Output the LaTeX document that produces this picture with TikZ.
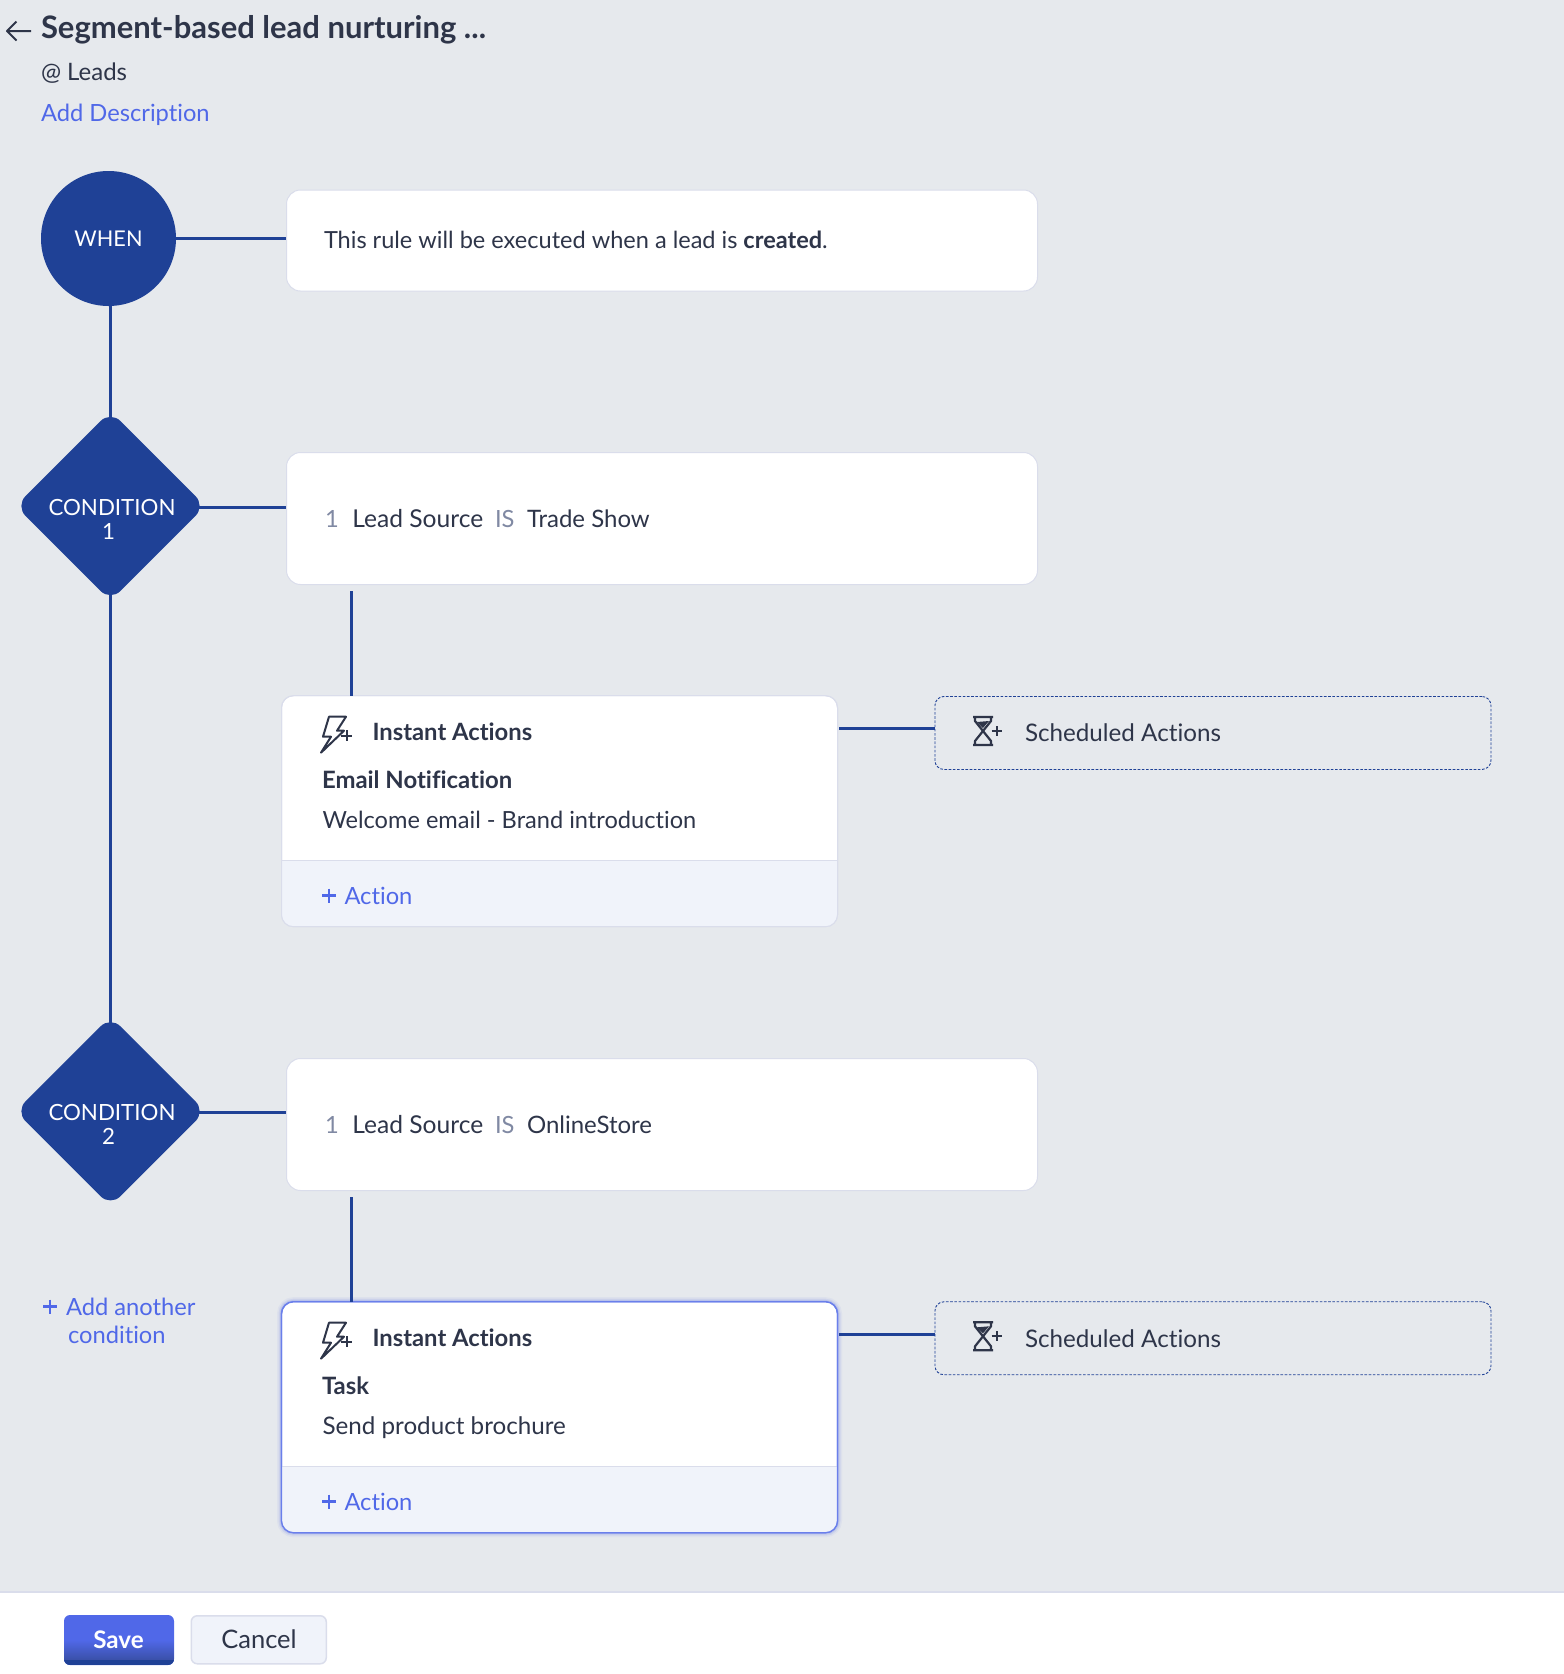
\documentclass[tikz,border=0pt]{standalone}
\usepackage{fontspec}
\usetikzlibrary{shapes.geometric,calc}
\setmainfont{Lato}[Ligatures=NoCommon]
\definecolor{bgc}{HTML}{E6E9ED}
\definecolor{navy}{HTML}{1F4196}
\definecolor{ink}{HTML}{2E3549}
\definecolor{linkc}{HTML}{5068E8}
\definecolor{edge}{HTML}{DADDEB}
\definecolor{foot}{HTML}{F0F3FA}
\definecolor{grayc}{HTML}{8089A3}
\definecolor{midb}{HTML}{3A50A8}
\newcommand{\fsz}[1]{\fontsize{#1}{#1}\selectfont}
\tikzset{
 x=1pt,y=-1pt,
 tx/.style={anchor=base west,inner sep=0pt,outer sep=0pt,text=ink,font=\fsz{23.7}},
 bd/.style={tx,font=\fsz{23.9}\bfseries},
 lk/.style={tx,text=linkc},
 wt/.style={anchor=base,inner sep=0pt,outer sep=0pt,text=white,font=\fsz{22.3}},
 link/.style={draw=navy,line width=3pt},
 whitebox/.style={draw=edge,fill=white,line width=1pt,rounded corners=14pt,anchor=north west,inner sep=0pt,minimum width=751pt,minimum height=132pt},
 dia/.style={diamond,fill=navy,aspect=1,inner sep=0pt,minimum width=190pt,minimum height=190pt,rounded corners=14pt},
 sched/.style={draw=navy,line width=.9pt,dash pattern=on 2.6pt off 1.6pt,rounded corners=9pt,anchor=north west,inner sep=0pt,minimum width=556pt,minimum height=73pt},
 ic/.style={draw=ink,line width=2.2pt,line join=round},
}
\newcommand{\actioncard}[7]{%
 \path[draw=#5,line width=#6,fill=white,rounded corners=12pt] (281.5,#2) rectangle (837.5,#2+231);
 \begin{scope}
 \clip[rounded corners=12pt] (281.5,#2) rectangle (837.5,#2+231);
 \fill[foot] (281.5,#2+164.5) rectangle (837.5,#2+231);
 \draw[edge,line width=1pt] (281.5,#2+164.5) -- (837.5,#2+164.5);
 \end{scope}
 \path[draw=#5,line width=#6,rounded corners=12pt] (281.5,#2) rectangle (837.5,#2+231);
 \node[inner sep=0pt,minimum width=556pt,minimum height=231pt,anchor=north west] (#1) at (281.5,#2) {};
 \draw[ic,line width=2pt] (329,#2+21) -- (346,#2+21) -- (337,#2+35) -- (344,#2+35) -- (321,#2+57) -- (331,#2+41) -- (323,#2+41) -- cycle;
 \draw[ink,line width=2pt] (341,#2+40) -- (352,#2+40) (346.5,#2+34.5) -- (346.5,#2+45.5);
 \node[bd,font=\fsz{23.8}\bfseries] (#1t) at (372.5,#2+45) {Instant Actions};
 \node[bd] (#1b) at (322,#2+93) {#3};
 \node[tx,font=\fsz{#7}] (#1d) at (322.5,#2+133) {#4};
 \draw[linkc,line width=2.8pt] (322,#2+200) -- (336,#2+200) (329,#2+193) -- (329,#2+207);
 \node[lk] (#1a) at (344.5,#2+209) {Action};
}
\newcommand{\hourglass}[2]{%
 \draw[ic] (#1,#2) -- (#1+20,#2) (#1+2,#2) -- (#1+2,#2+4) -- (#1+18,#2+24) -- (#1+18,#2+28) (#1+18,#2) -- (#1+18,#2+4) -- (#1+2,#2+24) -- (#1+2,#2+28) (#1,#2+28) -- (#1+20,#2+28);
 \fill[ink] (#1+4,#2+5) -- (#1+16,#2+4) -- (#1+10,#2+11) -- cycle;
 \draw[ink,line width=2pt] (#1+18.5,#2+14) -- (#1+28.5,#2+14) (#1+23.5,#2+9) -- (#1+23.5,#2+19);
}
\begin{document}
\begin{tikzpicture}
\useasboundingbox (0,0) rectangle (1564,1674);
\fill[bgc] (0,0) rectangle (1564,1592);
\fill[white] (0,1592) rectangle (1564,1674);
\draw[edge,line width=1.5pt] (0,1592) -- (1564,1592);
% header
\coordinate (bk1) at (31,31);
\coordinate (bk2) at (7,31);
\draw[ink,line width=2pt,line join=round] (bk1) -- (bk2) -- ++(9.5,-9.5) (bk2) -- ++(9.5,9.5);
\node[bd,font=\fsz{31}\bfseries] (title) at (41,38) {Segment-based lead nurturing ...};
\node[tx,font=\fsz{24}] (leads) at (41,80) {@ Leads};
\node[lk] (desc) at (41,121.5) {Add Description};
% shapes
\node[circle,fill=navy,inner sep=0pt,minimum size=135pt] (when) at (108.5,238.5) {};
\node[dia] (c1) at (110.5,506) {};
\node[dia] (c2) at (110.5,1111.3) {};
\node[whitebox,minimum height=101pt] (rule) at (286,189.5) {};
\node[whitebox] (b1) at (286,452) {};
\node[whitebox] (b2) at (286,1058) {};
% connectors
\draw[link] (when.east) -- (when.east -| rule.west);
\draw[link,shorten >=-7pt] (when.south -| c1.north) -- (c1.north);
\draw[link,shorten <=-7pt,shorten >=-7pt] (c1.south) -- (c2.north);
\draw[link,shorten <=-7pt] ($(c1.east)+(0,1)$) -- ($(c1.east -| b1.west)+(0,1)$);
\draw[link,shorten <=-7pt] ($(c2.east)+(0,1)$) -- ($(c2.east -| b2.west)+(0,1)$);
% glow of selected card
\foreach \w/\o in {9/.06,6/.1,3.5/.16}{\draw[linkc,opacity=\o,line width=\w pt,rounded corners=12pt] (281.5,1301.7) rectangle (837.5,1532.7);}
\coordinate (d1) at (351,591);
\coordinate (d2) at (351,1197);
\actioncard{ia1}{695.7}{Email Notification}{Welcome email - Brand introduction}{edge}{1pt}{23.6}
\actioncard{ia2}{1301.7}{Task}{Send product brochure}{linkc!85!white}{1.3pt}{24.2}
\draw[link] (d1) -- (d1 |- ia1.north);
\draw[link] (d2) -- (d2 |- ia2.north);
% scheduled
\node[sched] (s1) at (934.5,696) {};
\node[sched] (s2) at (934.5,1301.3) {};
\coordinate (o1) at (839,728);
\coordinate (o2) at (839,1334);
\draw[link] (o1) -- (o1 -| s1.west);
\draw[link] (o2) -- (o2 -| s2.west);
\hourglass{973}{717}
\hourglass{973}{1322.3}
\node[tx,font=\fsz{24.2}] (s1t) at (1025,741.5) {Scheduled Actions};
\node[tx,font=\fsz{24.2}] (s2t) at (1025,1347) {Scheduled Actions};
% labels
\node[wt,font=\fsz{21.7}] (whent) at (108.5,246.5) {WHEN};
\node[wt] (c1a) at (112,515) {CONDITION};
\node[wt] (c1b) at (108.5,539) {1};
\node[wt] (c2a) at (112,1120.5) {CONDITION};
\node[wt] (c2b) at (108.5,1144.5) {2};
\node[tx,font=\fsz{23.55}] (rt) at (324,248) {This rule will be executed when a lead is {\bfseries created}.};
\foreach \n/\dy/\v in {a/0/Trade Show,b/606/OnlineStore}{
 \node[tx,text=grayc] (n\n) at (325,527.5+\dy) {1};
 \node[tx,font=\fsz{24.6}] (f\n) at (352.3,527.5+\dy) {Lead Source};
 \node[tx,text=grayc] (o\n) at (495,527.5+\dy) {IS};
 \node[tx,font=\fsz{24}] (v\n) at (527,527.5+\dy) {\v};
}
% add condition
\draw[linkc,line width=2.8pt] (43,1306.7) -- (57,1306.7) (50,1299.7) -- (50,1313.7);
\node[lk] (ad1) at (66,1315) {Add another};
\node[lk] (ad2) at (68,1343) {condition};
% buttons
\fill[linkc,rounded corners=6pt] (64,1615) rectangle (174,1665);
\begin{scope}
 \clip[rounded corners=6pt] (64,1615) rectangle (174,1665);
 \shade[top color=linkc,bottom color=midb] (64,1640) rectangle (174,1660);
 \fill[navy] (64,1660) rectangle (174,1665);
\end{scope}
\node[wt,font=\fsz{24.2}\bfseries] (save) at (118.5,1648) {Save};
\node[draw=edge,fill=foot,line width=1.5pt,rounded corners=6pt,anchor=north west,inner sep=0pt,minimum width=135pt,minimum height=48pt] (cancelb) at (190.5,1615) {};
\node[tx,anchor=base,font=\fsz{25.5}] (cancel) at (259,1648.5) {Cancel};
\end{tikzpicture}
\end{document}
